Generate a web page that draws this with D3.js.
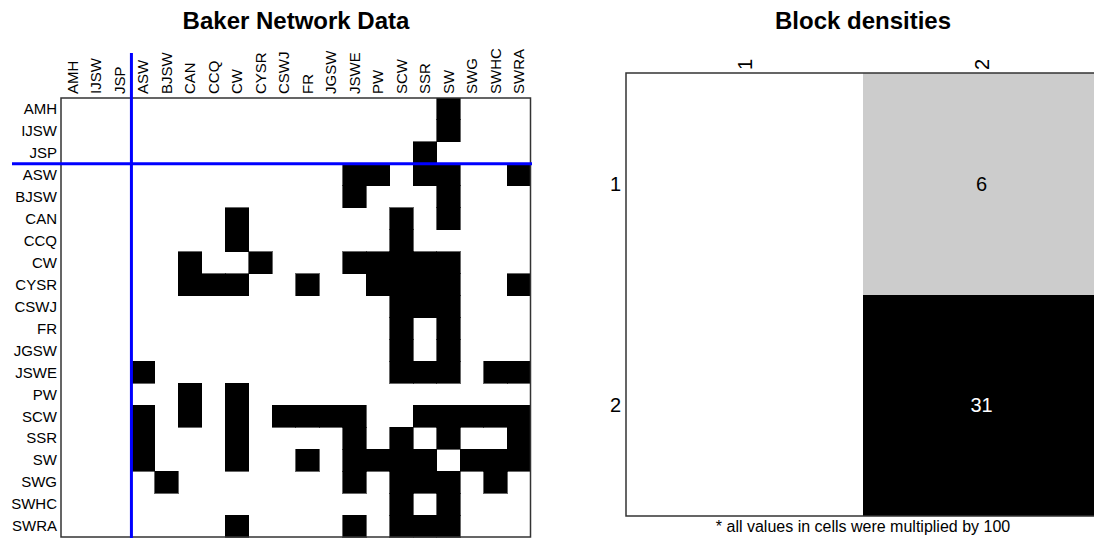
<!DOCTYPE html>
<html>
<head>
<meta charset="utf-8">
<script src="https://cdn.jsdelivr.net/npm/d3@7/dist/d3.min.js"></script>
<style>
  html, body { margin: 0; padding: 0; background: #fff; }
  svg { display: block; font-family: "Liberation Sans", Arial, sans-serif; }
</style>
</head>
<body>
<svg id="chart" width="1094" height="538"></svg>
<script>
// ---- Data ----
const actors = ["AMH","IJSW","JSP","ASW","BJSW","CAN","CCQ","CW","CYSR","CSWJ",
                "FR","JGSW","JSWE","PW","SCW","SSR","SW","SWG","SWHC","SWRA"];
// adjacency rows (1 = tie), in the order of actors
const adjacency = [
  "00000000000000001000", // AMH
  "00000000000000001000", // IJSW
  "00000000000000010000", // JSP
  "00000000000011011001", // ASW
  "00000000000010001000", // BJSW
  "00000001000000101000", // CAN
  "00000001000000100000", // CCQ
  "00000100100011111000", // CW
  "00000111001001111001", // CYSR
  "00000000000000111000", // CSWJ
  "00000000000000101000", // FR
  "00000000000000101000", // JGSW
  "00010000000000111011", // JSWE
  "00000101000000000000", // PW
  "00010101011110011111", // SCW
  "00010001000010101001", // SSR
  "00010001001011110111", // SW
  "00001000000010111010", // SWG
  "00000000000000101000", // SWHC
  "00000001000010111000"  // SWRA
];
const blockSizes = [3, 17];           // actors per block (split after JSP)
const blockLabels = ["1", "2"];
const blockDensity = [[0, 6], [0, 31]]; // values x100
const footnote = "* all values in cells were multiplied by 100";

const svg = d3.select("#chart");

// ---- Left: Baker Network Data matrix ----
const x = d3.scaleBand().domain(actors).range([61, 530.5]);
const y = d3.scaleBand().domain(actors).range([98, 537]);

svg.append("text").attr("x", 296).attr("y", 29)
  .attr("text-anchor", "middle").attr("font-size", 24).attr("font-weight", "bold")
  .text("Baker Network Data");

const cells = [];
adjacency.forEach((row, i) => row.split("").forEach((v, j) => {
  if (v === "1") cells.push({ r: actors[i], c: actors[j] });
}));

svg.append("g").attr("shape-rendering", "crispEdges")
  .selectAll("rect").data(cells).join("rect")
  .attr("x", d => x(d.c)).attr("y", d => y(d.r))
  .attr("width", x.bandwidth()).attr("height", y.bandwidth())
  .attr("fill", "#000").attr("stroke", "#000").attr("stroke-width", 0.6);

svg.append("rect").attr("x", 61).attr("y", 98)
  .attr("width", 530.5 - 61).attr("height", 537 - 98)
  .attr("fill", "none").attr("stroke", "#333").attr("stroke-width", 1.5);

svg.append("g").selectAll("text").data(actors).join("text")
  .attr("x", 57).attr("y", d => y(d) + y.bandwidth() / 2)
  .attr("dy", "0.35em").attr("text-anchor", "end").attr("font-size", 15)
  .text(d => d);

svg.append("g").selectAll("text").data(actors).join("text")
  .attr("transform", d => `translate(${x(d) + x.bandwidth() / 2},94) rotate(-90)`)
  .attr("dy", "0.35em").attr("text-anchor", "start").attr("font-size", 15)
  .text(d => d);

// block separators
const splitActor = actors[blockSizes[0]];
svg.append("line")
  .attr("x1", x(splitActor)).attr("x2", x(splitActor))
  .attr("y1", 53).attr("y2", 538)
  .attr("stroke", "#0000ff").attr("stroke-width", 3);
svg.append("line")
  .attr("x1", 12).attr("x2", 532)
  .attr("y1", y(splitActor)).attr("y2", y(splitActor))
  .attr("stroke", "#0000ff").attr("stroke-width", 3);

// ---- Right: Block densities ----
const bx = d3.scaleBand().domain(blockLabels).range([626, 1100]);
const by = d3.scaleBand().domain(blockLabels).range([73, 516]);
const fillScale = d3.scaleThreshold().domain([1, 20]).range(["#ffffff", "#cccccc", "#000000"]);

svg.append("text").attr("x", 863).attr("y", 29)
  .attr("text-anchor", "middle").attr("font-size", 24).attr("font-weight", "bold")
  .text("Block densities");

const bcells = [];
blockDensity.forEach((row, i) => row.forEach((v, j) =>
  bcells.push({ r: blockLabels[i], c: blockLabels[j], v })));

svg.append("g").attr("shape-rendering", "crispEdges")
  .selectAll("rect").data(bcells).join("rect")
  .attr("x", d => bx(d.c)).attr("y", d => by(d.r))
  .attr("width", bx.bandwidth()).attr("height", by.bandwidth())
  .attr("fill", d => fillScale(d.v));

svg.append("path")
  .attr("d", `M1100,73 H626 V516 H1100`)
  .attr("fill", "none").attr("stroke", "#333").attr("stroke-width", 1.5);

svg.append("g").selectAll("text").data(bcells.filter(d => d.v > 0)).join("text")
  .attr("x", d => bx(d.c) + bx.bandwidth() / 2)
  .attr("y", d => by(d.r) + by.bandwidth() / 2)
  .attr("dy", "0.35em").attr("text-anchor", "middle").attr("font-size", 20)
  .attr("fill", d => d.v >= 20 ? "#fff" : "#000")
  .text(d => d.v);

svg.append("g").selectAll("text").data(blockLabels).join("text")
  .attr("transform", d => `translate(${bx(d) + bx.bandwidth() / 2},64.5) rotate(-90)`)
  .attr("dy", "0.35em").attr("text-anchor", "middle").attr("font-size", 20)
  .text(d => d);

svg.append("g").selectAll("text").data(blockLabels).join("text")
  .attr("x", 621).attr("y", d => by(d) + by.bandwidth() / 2)
  .attr("dy", "0.35em").attr("text-anchor", "end").attr("font-size", 20)
  .text(d => d);

svg.append("text").attr("x", 863).attr("y", 532)
  .attr("text-anchor", "middle").attr("font-size", 16)
  .text(footnote);
</script>
</body>
</html>
